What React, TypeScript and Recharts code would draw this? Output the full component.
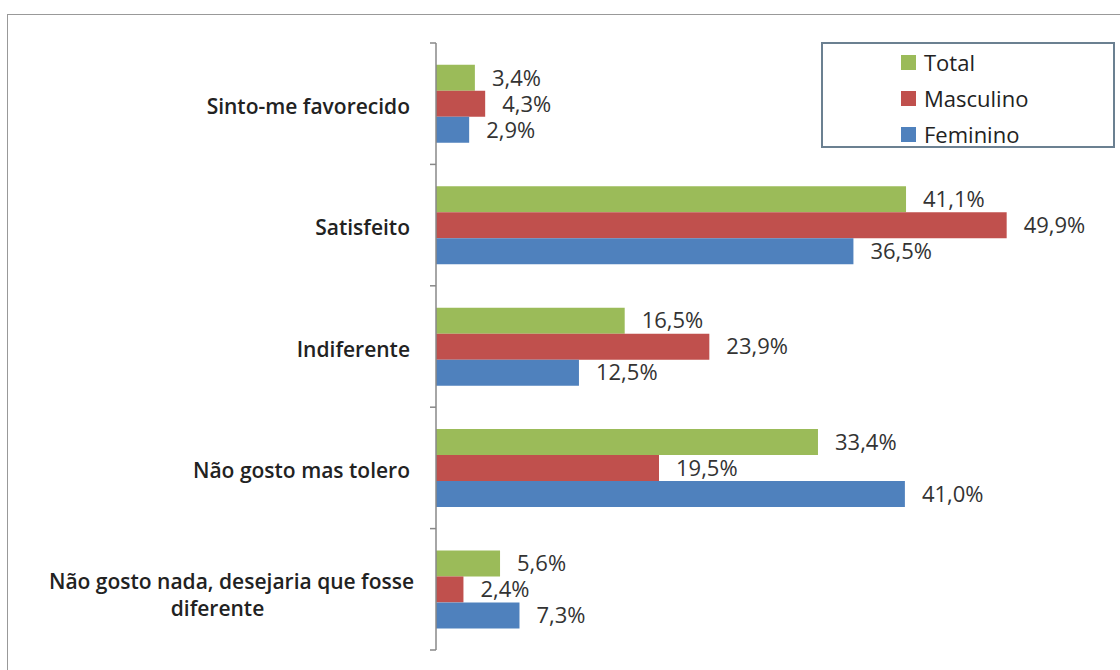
import { Bar, BarChart, LabelList, Legend, XAxis, YAxis } from "recharts";

const categories = [
  "Sinto-me favorecido",
  "Satisfeito",
  "Indiferente",
  "Não gosto mas tolero",
  "Não gosto nada, desejaria que fosse diferente",
];
const total = [3.4, 41.1, 16.5, 33.4, 5.6];
const masculino = [4.3, 49.9, 23.9, 19.5, 2.4];
const feminino = [2.9, 36.5, 12.5, 41.0, 7.3];

const SERIES = [
  { key: "total", name: "Total", color: "#9bbb59" },
  { key: "masculino", name: "Masculino", color: "#c0504d" },
  { key: "feminino", name: "Feminino", color: "#4f81bd" },
];

const W = 1120;
const H = 670;
const MARGIN = { top: 43, right: 55, bottom: 20, left: 0 };
const Y_W = 436;
const AXIS_X = MARGIN.left + Y_W;
const BAND = (H - MARGIN.top - MARGIN.bottom) / categories.length;
const FONT = "'Open Sans', 'Noto Sans', sans-serif";

const data = categories.map((name, i) => ({
  name,
  total: total[i],
  masculino: masculino[i],
  feminino: feminino[i],
}));

const fmt = (v: any) => `${Number(v).toFixed(1).replace(".", ",")}%`;

function wrap(label: string, max = 36) {
  if (label.length <= max) return [label];
  const cut = label.lastIndexOf(" ", max);
  return [label.slice(0, cut), label.slice(cut + 1)];
}

function CategoryTick(props: any) {
  const { y, payload, index } = props;
  const lines = wrap(String(payload.value));
  const right = AXIS_X - 26;
  const top = y - BAND / 2;
  const marks = [top];
  if (index === categories.length - 1) marks.push(y + BAND / 2);
  const cx = right - lines[0].length * 5.1;
  return (
    <g>
      {marks.map((my, i) => (
        <line key={i} x1={AXIS_X - 6} x2={AXIS_X} y1={my} y2={my} stroke="#888" strokeWidth={1.5} />
      ))}
      {lines.length === 1 ? (
        <text x={right} y={y} dy={10} textAnchor="end" fill="#222" fontSize={21} fontWeight={600} fontFamily={FONT}>
          {lines[0]}
        </text>
      ) : (
        <text y={y} textAnchor="middle" fill="#222" fontSize={21} fontWeight={600} fontFamily={FONT}>
          {lines.map((l, i) => (
            <tspan key={i} x={i === 0 ? cx : cx - 14} dy={i === 0 ? 0 : 27}>
              {l}
            </tspan>
          ))}
        </text>
      )}
    </g>
  );
}

function LegendBox() {
  return (
    <div style={{ paddingLeft: 78, fontFamily: FONT, fontSize: 22, color: "#222" }}>
      {SERIES.map((s) => (
        <div key={s.key} style={{ display: "flex", alignItems: "center", height: 36 }}>
          <span style={{ width: 15, height: 15, background: s.color, marginRight: 8 }} />
          {s.name}
        </div>
      ))}
    </div>
  );
}

export default function App() {
  return (
    <div style={{ position: "absolute", left: 0, top: 0, width: W, height: H, background: "#fff", overflow: "hidden" }}>
      <div
        style={{
          position: "absolute",
          left: 7,
          top: 14,
          width: W,
          height: H,
          borderLeft: "1.5px solid #999",
          borderTop: "1.5px solid #999",
        }}
      />
      <div style={{ position: "absolute", left: 0, top: 0 }}>
        <BarChart
          width={W}
          height={H}
          data={data}
          layout="vertical"
          margin={MARGIN}
          barCategoryGap="18%"
          barGap={0}
        >
          <XAxis type="number" domain={[0, 55]} hide />
          <YAxis
            type="category"
            dataKey="name"
            width={Y_W}
            axisLine={{ stroke: "#888", strokeWidth: 1.5 }}
            tickLine={false}
            tick={<CategoryTick />}
            interval={0}
          />
          <Legend
            layout="horizontal"
            verticalAlign="middle"
            align="center"
            content={<LegendBox />}
            wrapperStyle={{
              left: 821,
              top: 42,
              width: 294,
              height: 106,
              border: "2px solid #6b8091",
              background: "#fff",
              boxSizing: "border-box",
            }}
          />
          {SERIES.map((s) => (
            <Bar key={s.key} dataKey={s.key} name={s.name} fill={s.color} isAnimationActive={false}>
              <LabelList
                dataKey={s.key}
                position="right"
                offset={17}
                formatter={fmt}
                fill="#333"
                fontSize={22}
                fontFamily={FONT}
              />
            </Bar>
          ))}
        </BarChart>
      </div>
    </div>
  );
}
